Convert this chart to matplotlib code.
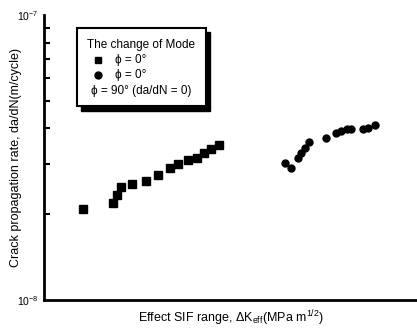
import numpy as np
import matplotlib
matplotlib.use("Agg")
import matplotlib.pyplot as plt
from matplotlib.patches import Rectangle

plt.rcParams['font.family'] = ['Liberation Sans', 'DejaVu Sans']
plt.rcParams['mathtext.fontset'] = 'custom'
plt.rcParams['mathtext.rm'] = 'Liberation Sans'
plt.rcParams['mathtext.it'] = 'Liberation Sans'

# effect SIF range (arbitrary units along the axis) and da/dN (m/cycle)
dk_sq = [3.9, 6.9, 7.3, 7.7, 8.8, 10.2, 11.4, 12.6, 13.4, 14.4, 15.3, 16.0, 16.7, 17.5]
dadn_sq = [2.09, 2.19, 2.34, 2.49, 2.55, 2.62, 2.75, 2.90, 3.00, 3.10, 3.15, 3.28, 3.39, 3.50]

dk_ci = [24.1, 24.7, 25.4, 25.7, 26.1, 26.5, 28.2, 29.2, 29.7, 30.3, 30.7, 31.9, 32.4, 33.1]
dadn_ci = [3.03, 2.90, 3.15, 3.28, 3.42, 3.59, 3.70, 3.85, 3.92, 3.98, 3.98, 3.98, 4.01, 4.11]

dadn_sq = np.array(dadn_sq) * 1e-8
dadn_ci = np.array(dadn_ci) * 1e-8

fig = plt.figure(figsize=(4.17, 3.31), dpi=100)
ax = fig.add_axes([44/417, 31/331, 373/417, 285/331])

ax.plot(dk_sq, dadn_sq, 's', color='black', ms=5.5, mec='black', zorder=3)
ax.plot(dk_ci, dadn_ci, 'o', color='black', ms=5, mec='black', zorder=3)

ax.set_yscale('log')
ax.set_ylim(1e-8, 1e-7)
ax.set_xlim(0, 37.3)
ax.set_yticks([1e-8, 1e-7])
ax.set_yticklabels([r'$10^{-8}$', r'$10^{-7}$'], fontsize=7.5)
ax.tick_params(axis='y', which='both', direction='in', width=1.5)
ax.tick_params(axis='y', which='major', length=0, pad=4)
ax.tick_params(axis='y', which='minor', length=4, labelleft=False)
ax.set_xticks([])
for s in ['top', 'right']:
    ax.spines[s].set_visible(False)
for s in ['left', 'bottom']:
    ax.spines[s].set_linewidth(2)

ax.set_ylabel('Crack propagation rate, da/dN(m/cycle)', fontsize=9)
ax.yaxis.set_label_coords(-0.075, 0.5)
ax.yaxis.label.set_va('center')
ax.set_xlabel(r'Effect SIF range, $\Delta$K$_{eff}$(MPa m$^{1/2}$)', fontsize=9)
ax.xaxis.set_label_coords(0.5, -0.063)
ax.xaxis.label.set_va('center')

# legend box with a solid shadow
fs = 8.5
bx, by, bw, bh = 0.088, 0.68, 0.345, 0.275
ax.add_patch(Rectangle((bx + 0.012, by - 0.016), bw, bh, transform=ax.transAxes,
                       facecolor='black', edgecolor='black', zorder=4))
ax.add_patch(Rectangle((bx, by), bw, bh, transform=ax.transAxes,
                       facecolor='white', edgecolor='black', lw=1.5, zorder=5))
ax.text(bx + bw / 2, 0.895, 'The change of Mode', transform=ax.transAxes,
        ha='center', va='center', fontsize=fs, zorder=6)
ax.plot([0.145], [0.843], 's', color='black', ms=5, transform=ax.transAxes, zorder=6, clip_on=False)
ax.text(0.19, 0.843, 'ϕ = 0°', transform=ax.transAxes, ha='left', va='center', fontsize=fs, zorder=6)
ax.plot([0.145], [0.79], 'o', color='black', ms=5, transform=ax.transAxes, zorder=6, clip_on=False)
ax.text(0.19, 0.79, 'ϕ = 0°', transform=ax.transAxes, ha='left', va='center', fontsize=fs, zorder=6)
ax.text(bx + bw / 2, 0.733, 'ϕ = 90° (da/dN = 0)', transform=ax.transAxes, ha='center', va='center',
        fontsize=fs, zorder=6)

fig.savefig('out.png', dpi=100)
